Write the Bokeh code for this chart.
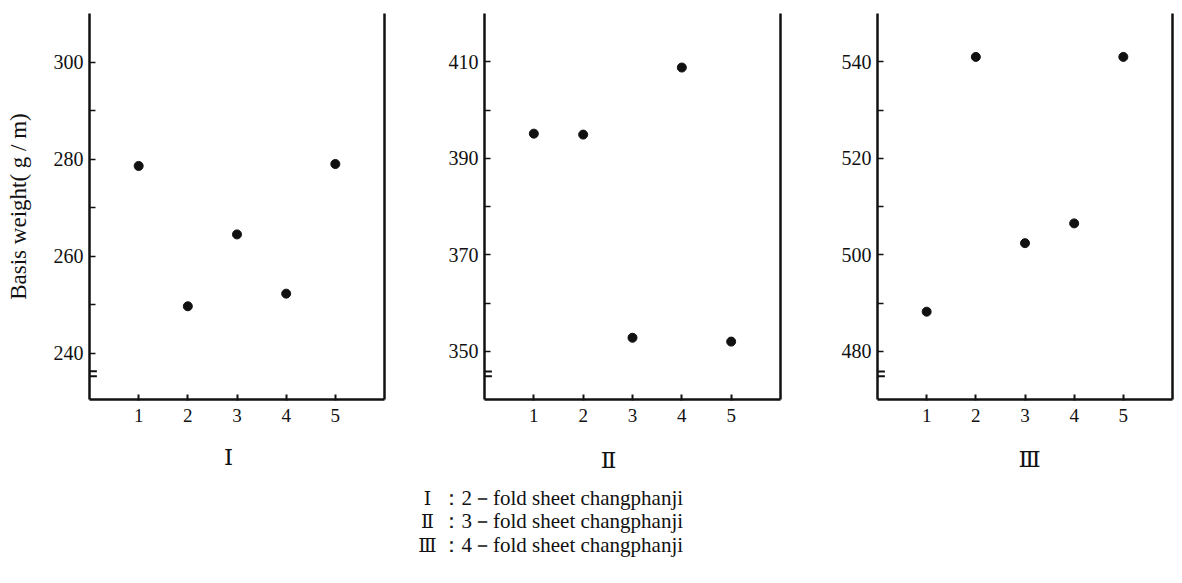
from bokeh.plotting import figure
from bokeh.layouts import row, column
from bokeh.models import LinearAxis, FixedTicker, Range1d, Arrow
from bokeh.core.properties import value
from bokeh.embed import file_html
from bokeh.resources import INLINE

# ---- data ----
samples = [1, 2, 3, 4, 5]
weight_2fold = [278.6, 249.7, 264.5, 252.3, 279.0]
weight_3fold = [395.1, 394.9, 352.8, 408.8, 352.0]
weight_4fold = [488.2, 541.0, 502.4, 506.5, 541.0]

panel_names = ["Ⅰ", "Ⅱ", "Ⅲ"]
y_limits = [(230.5, 310), (340, 420), (470, 550)]
y_major = [[240, 260, 280, 300], [350, 370, 390, 410], [480, 500, 520, 540]]
y_minor = [[250, 270, 290], [360, 380, 400], [490, 510, 530]]
x_ticks = [1, 2, 3, 4, 5]
y_title = "Basis weight( g / m)"
legend_names = ["Ⅰ", "Ⅱ", "Ⅲ"]
legend_texts = ["：2－fold sheet changphanji",
                "：3－fold sheet changphanji",
                "：4－fold sheet changphanji"]

SERIF = "Liberation Serif"
INK = "#111111"
X_LIM = (0, 6)
TOP_H = 440
W = 1182
H = 583


def make_panel(values, lims, major, minor, w, bl, br, bt, bb, title=None):
    p = figure(width=w, height=TOP_H, x_range=Range1d(*X_LIM), y_range=Range1d(*lims),
               toolbar_location=None, output_backend="svg",
               min_border_left=bl, min_border_right=br, min_border_top=bt, min_border_bottom=bb,
               outline_line_color=None, background_fill_color="white", border_fill_color="white")
    p.grid.visible = False

    xa = p.xaxis[0]
    xa.ticker = FixedTicker(ticks=x_ticks)
    xa.axis_line_width = 2.5
    xa.axis_line_color = INK
    xa.major_tick_in = 5
    xa.major_tick_out = 1
    xa.major_tick_line_width = 2
    xa.major_tick_line_color = INK
    xa.minor_tick_line_color = None
    xa.major_label_text_font = SERIF
    xa.major_label_text_font_size = "19px"
    xa.major_label_text_color = INK
    xa.major_label_standoff = 8

    ya = p.yaxis[0]
    ya.ticker = FixedTicker(ticks=major, minor_ticks=minor)
    ya.axis_line_width = 2.5
    ya.axis_line_color = INK
    ya.major_tick_in = 6
    ya.major_tick_out = 0
    ya.minor_tick_in = 6
    ya.minor_tick_out = 0
    ya.major_tick_line_width = 1.5
    ya.minor_tick_line_width = 1.5
    ya.major_tick_line_color = INK
    ya.minor_tick_line_color = INK
    ya.major_label_text_font = SERIF
    ya.major_label_text_font_size = "20px"
    ya.major_label_text_color = INK
    ya.major_label_standoff = 6
    if title:
        ya.axis_label = title
        ya.axis_label_text_font = SERIF
        ya.axis_label_text_font_style = "normal"
        ya.axis_label_text_font_size = "23px"
        ya.axis_label_text_color = INK
        ya.axis_label_standoff = 20

    ra = LinearAxis(ticker=FixedTicker(ticks=[]), major_label_text_font_size="0px",
                    axis_line_width=2.5, axis_line_color=INK,
                    major_tick_line_color=None, minor_tick_line_color=None)
    p.add_layout(ra, "right")

    # axis break marks
    brk = lims[0] + 5.3
    for dy in (-0.5, 0.5):
        p.add_layout(Arrow(end=None, start=None, x_start=-0.15, x_end=0.15,
                           y_start=brk + dy, y_end=brk + dy,
                           line_width=2, line_color=INK))

    p.scatter(samples, values, size=9, color=INK)
    return p


p1 = make_panel(weight_2fold, y_limits[0], y_major[0], y_minor[0],
                395, 89, 11, 7, TOP_H - 399, title=y_title)
p2 = make_panel(weight_3fold, y_limits[1], y_major[1], y_minor[1],
                396, 89, 11, 8, TOP_H - 401)
p3 = make_panel(weight_4fold, y_limits[2], y_major[2], y_minor[2],
                391, 86, 10, 13, TOP_H - 403)

# ---- caption strip: panel names and key (pixel-based layout coordinates) ----
cap_h = H - TOP_H
cap = figure(width=W, height=cap_h, x_range=Range1d(0, W), y_range=Range1d(cap_h, 0),
             toolbar_location=None, output_backend="svg",
             min_border=0, outline_line_color=None,
             background_fill_color="white", border_fill_color="white")
cap.axis.visible = False
cap.grid.visible = False

name_x = [228, 608, 1029]
name_y = [16, 19, 18]
cap.text(x=name_x, y=name_y, text=panel_names, text_align="center", text_baseline="middle",
         text_font=value("DejaVu Serif"), text_font_size="23px", text_color=INK)

key_y = [57, 80, 104]
cap.text(x=[427] * 3, y=key_y, text=legend_names, text_align="center", text_baseline="middle",
         text_font=value("DejaVu Serif"), text_font_size="19px", text_color=INK)
cap.text(x=[440] * 3, y=key_y, text=legend_texts, text_align="left", text_baseline="middle",
         text_font=value(SERIF), text_font_size="21px", text_color=INK)

layout = column(row(p1, p2, p3, spacing=0), cap, spacing=0)
open("out.html", "w").write(file_html(layout, INLINE))
